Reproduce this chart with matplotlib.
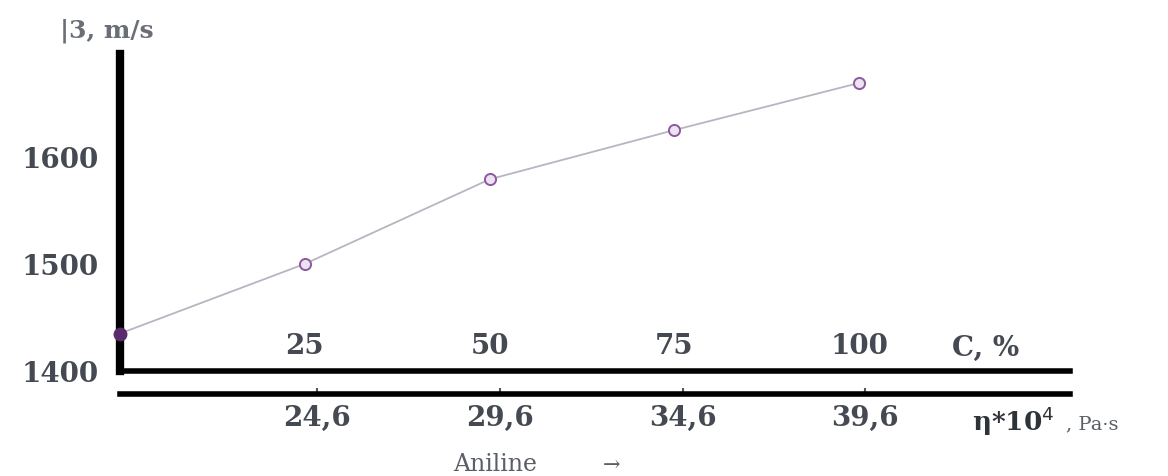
import matplotlib
matplotlib.use("Agg")
import matplotlib.pyplot as plt

# ---- data ----
conc = [0, 25, 50, 75, 100]                 # C, %
velocity = [1435, 1500, 1579, 1625, 1669]   # ϑ, m/s
c_ticks = [25, 50, 75, 100]
c_labels = ["25", "50", "75", "100"]
eta_ticks = [24.6, 29.6, 34.6, 39.6]
eta_labels = ["24,6", "29,6", "34,6", "39,6"]
y_ticks = [1400, 1500, 1600]
y_labels = ["1400", "1500", "1600"]

FS = "DejaVu Serif"
TXT = "#454a52"

fig = plt.figure(figsize=(11.68, 4.77), dpi=100)
fig.patch.set_facecolor("white")
ax = fig.add_axes([120/1168, 1 - 372/477, 950/1168, 317/477])

ax.set_xlim(0, 128.5)
ax.set_ylim(1400, 1696)

ax.plot(conc, velocity, color="#bab4c2", lw=1.3, zorder=2)
ax.plot(conc[1:], velocity[1:], ls="none", marker="o", ms=8,
        mfc="#ece2f2", mec="#8a5a9e", mew=1.4, zorder=3)
ax.plot(conc[:1], velocity[:1], ls="none", marker="o", ms=9,
        mfc="#5a2a6e", mec="#5a2a6e", zorder=4, clip_on=False)

for s in ["top", "right"]:
    ax.spines[s].set_visible(False)
ax.spines["left"].set_linewidth(6.0)
ax.spines["bottom"].set_linewidth(4.0)
ax.spines["left"].set_capstyle("projecting")
ax.spines["bottom"].set_capstyle("projecting")

ax.set_yticks(y_ticks)
ax.set_yticklabels(y_labels, fontfamily=FS, fontsize=20, fontweight="bold",
                   color=TXT)
ax.tick_params(axis="y", length=0, pad=15)

ax.set_xticks(c_ticks)
ax.set_xticklabels(c_labels, fontfamily=FS, fontsize=20, fontweight="bold",
                   color=TXT)
ax.tick_params(axis="x", length=0, pad=-9)
for lbl in ax.get_xticklabels():
    lbl.set_va("bottom")

fig.text(952/1168, 1 - 348/477, "C, %", fontfamily=FS, fontsize=20,
         fontweight="bold", color=TXT, ha="left", va="center")

# secondary viscosity axis
ax2 = ax.twiny()
ax2.set_xlim(19.2, 45.2)
for s in ["top", "right", "left"]:
    ax2.spines[s].set_visible(False)
ax2.spines["bottom"].set_visible(True)
ax2.spines["bottom"].set_position(("outward", 16.5))
ax2.spines["bottom"].set_linewidth(4.0)
ax2.spines["bottom"].set_capstyle("projecting")
ax2.xaxis.set_ticks_position("bottom")
ax2.xaxis.set_label_position("bottom")
ax2.set_xticks(eta_ticks)
ax2.set_xticklabels(eta_labels, fontfamily=FS, fontsize=20,
                    fontweight="bold", color=TXT)
ax2.tick_params(axis="x", direction="in", length=4, width=1.5,
                color="#6a4a70", pad=7)

fig.text(972/1168, 1 - 421/477, "η*10$^4$", fontfamily=FS, fontsize=19,
         fontweight="bold", color="#2e3338", ha="left", va="center")
fig.text(1066/1168, 1 - 424/477, ", Pa·s", fontfamily=FS, fontsize=14,
         color="#5a5f66", ha="left", va="center")

fig.text(60/1168, 1 - 31/477, "|3, m/s", fontfamily=FS, fontsize=18,
         fontweight="bold", color="#6a6e75", ha="left", va="center")
fig.text(453/1168, 1 - 465/477, "Aniline", fontfamily=FS, fontsize=17,
         color="#5a5f66", ha="left", va="center")
fig.text(603/1168, 1 - 465/477, "→", fontfamily=FS, fontsize=15,
         color="#5a5f66", ha="left", va="center")

fig.savefig("out.png", dpi=100, facecolor="white")
